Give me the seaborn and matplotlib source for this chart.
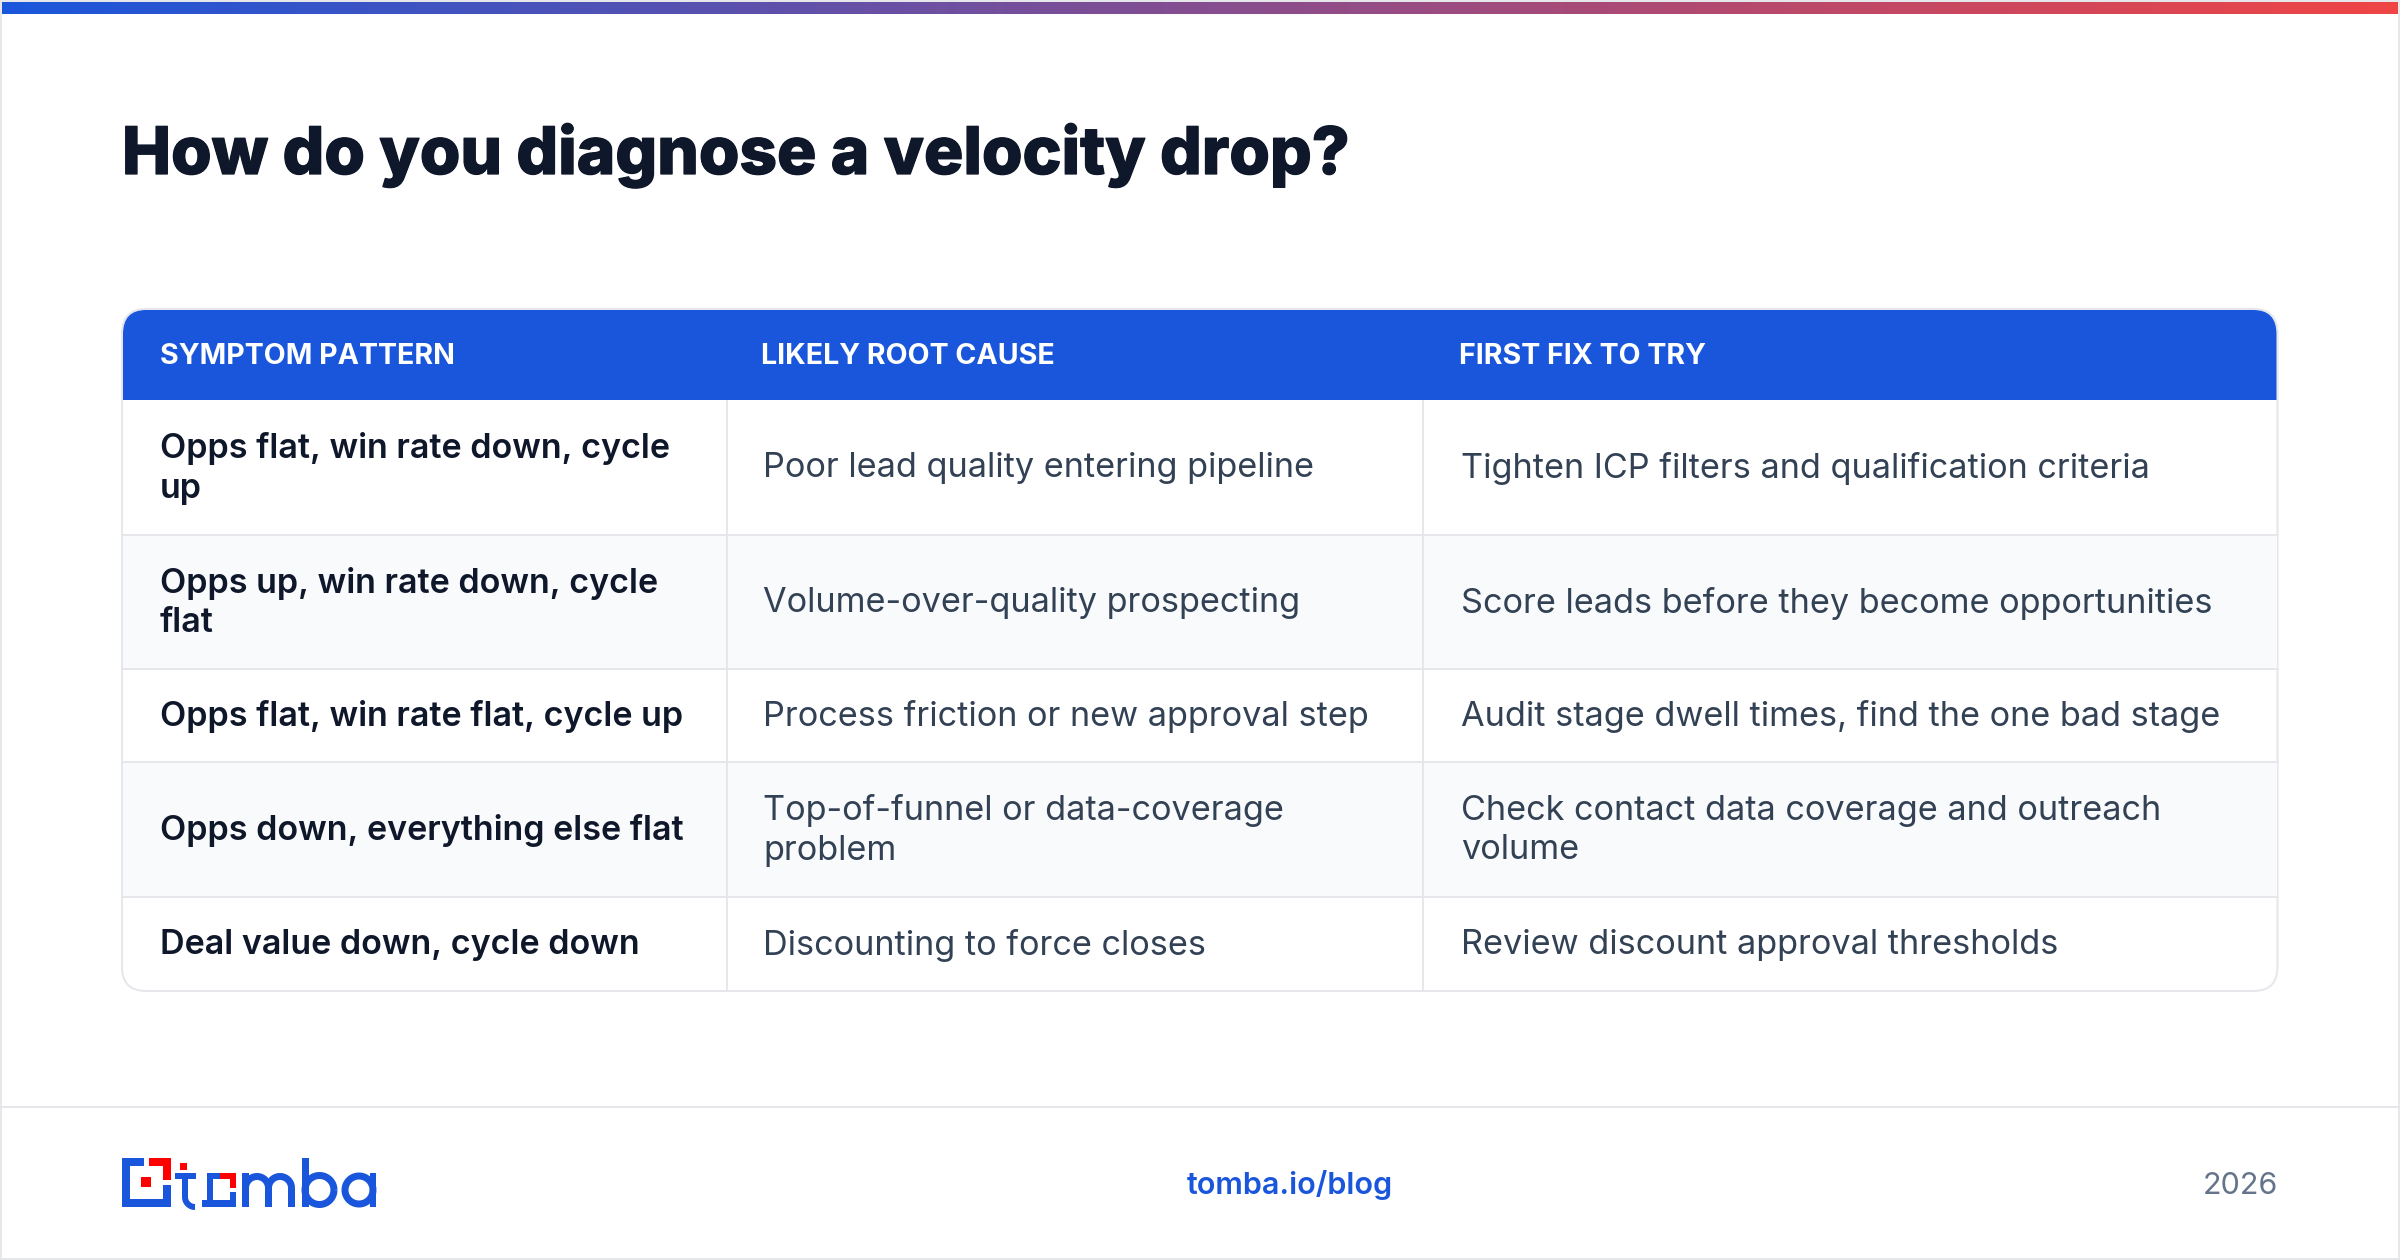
import numpy as np
import matplotlib
matplotlib.use('Agg')
import matplotlib.pyplot as plt
import matplotlib.patheffects as pe
import seaborn as sns
from matplotlib.colors import LinearSegmentedColormap
from matplotlib.patches import Rectangle, FancyBboxPatch, PathPatch
from matplotlib.path import Path

# table content
title = 'How do you diagnose a velocity drop?'
headers = ['SYMPTOM PATTERN', 'LIKELY ROOT CAUSE', 'FIRST FIX TO TRY']
symptoms = ['Opps flat, win rate down, cycle\nup', 'Opps up, win rate down, cycle\nflat',
            'Opps flat, win rate flat, cycle up', 'Opps down, everything else flat',
            'Deal value down, cycle down']
causes = ['Poor lead quality entering pipeline', 'Volume-over-quality prospecting',
          'Process friction or new approval step', 'Top-of-funnel or data-coverage\nproblem',
          'Discounting to force closes']
fixes = ['Tighten ICP filters and qualification criteria', 'Score leads before they become opportunities',
         'Audit stage dwell times, find the one bad stage', 'Check contact data coverage and outreach\nvolume',
         'Review discount approval thresholds']
footer_link = 'tomba.io/blog'
footer_year = '2026'

# layout in pixels
row_edges = [400, 535, 669, 762, 897, 991]
col_edges = [122, 727, 1423, 2277.5]

BLUE = '#1a56db'
RED = '#ff0000'
LINE = '#e5e7eb'
DARK = '#0f172a'
BODY = '#334155'

sns.set_theme(style='white')
plt.rcParams['font.family'] = ['Inter', 'DejaVu Sans']

fig = plt.figure(figsize=(24, 12.6), dpi=100, facecolor='white')
ax = fig.add_axes([0, 0, 1, 1])
ax.set_xlim(0, 2400)
ax.set_ylim(1260, 0)
ax.axis('off')

# page border and footer rule
ax.add_patch(Rectangle((1, 1), 2398, 1258, fc='none', ec=LINE, lw=1.44))
ax.plot([2, 2398], [1107, 1107], color=LINE, lw=1.44)

# gradient strip along the top
bar_ax = fig.add_axes([2 / 2400, 1 - 14 / 1260, 2396 / 2400, 12 / 1260])
cmap = LinearSegmentedColormap.from_list('strip', [BLUE, '#ef4444'])
sns.heatmap(np.linspace(0, 1, 600).reshape(1, -1), cmap=cmap, cbar=False,
            xticklabels=False, yticklabels=False, ax=bar_ax)

# table frame
rad = 24
x0, x1 = col_edges[0], col_edges[-1]
y0, y1 = 309, row_edges[-1]
frame = FancyBboxPatch((x0, y0), x1 - x0, y1 - y0, boxstyle=f'round,pad=0,rounding_size={rad}',
                       fc='white', ec=LINE, lw=1.44, zorder=1)
ax.add_patch(frame)

# alternate row shading
for i in range(5):
    top, bot = row_edges[i], row_edges[i + 1]
    if i % 2 == 1:
        ax.add_patch(Rectangle((x0 + 1, top), x1 - x0 - 2, bot - top, fc='#f8fafc', ec='none', zorder=1.2))
    if i < 4:
        ax.plot([x0, x1], [bot, bot], color=LINE, lw=1.44, zorder=1.5)
for cx in col_edges[1:-1]:
    ax.plot([cx, cx], [row_edges[0], row_edges[-1]], color=LINE, lw=1.44, zorder=1.5)

# header band, rounded on top only
hdr = Path([(x0 + 1, 400), (x0 + 1, 310 + rad), (x0 + 1, 310), (x0 + rad, 310), (x1 - rad, 310), (x1 - 1, 310),
            (x1 - 1, 310 + rad), (x1 - 1, 400), (x0 + 1, 400)],
           [Path.MOVETO, Path.LINETO, Path.CURVE3, Path.CURVE3, Path.LINETO, Path.CURVE3, Path.CURVE3,
            Path.LINETO, Path.CLOSEPOLY])
ax.add_patch(PathPatch(hdr, fc=BLUE, ec='none', zorder=2))

ax.text(122, 156, title, fontsize=47.2, fontweight=800, color=DARK, va='center', ha='left', zorder=3,
        path_effects=[pe.withStroke(linewidth=0.9, foreground=DARK)])

for x, label in zip([160, 761, 1459], headers):
    ax.text(x, 356, label, fontsize=20.6, fontweight='bold', color='white', va='center', ha='left', zorder=3)

for i in range(5):
    mid = (row_edges[i] + row_edges[i + 1]) / 2 + 1
    ax.text(160, mid, symptoms[i], fontsize=24.55, fontweight='semibold', color=DARK, va='center', ha='left',
            linespacing=1.3, zorder=3)
    ax.text(763, mid, causes[i], fontsize=24.65, color=BODY, va='center', ha='left', linespacing=1.3, zorder=3)
    ax.text(1461, mid, fixes[i], fontsize=24.65, color=BODY, va='center', ha='left', linespacing=1.3, zorder=3)

ax.text(1289.5, 1185, footer_link, fontsize=22, fontweight='semibold', color=BLUE, va='center', ha='center')
ax.text(2278.5, 1186, footer_year, fontsize=22, color='#64748b', va='center', ha='right')


# logo, built from blocks and strokes
def block(x_a, x_b, y_a, y_b, color=BLUE):
    ax.add_patch(Rectangle((x_a, y_a), x_b - x_a, y_b - y_a, fc=color, ec='none', zorder=3))


def arc(cx, cy, r, start, end, width=7):
    t = np.radians(np.linspace(start, end, 60))
    ax.plot(cx + r * np.cos(t), cy - r * np.sin(t), color=BLUE, lw=width * 0.72,
            solid_capstyle='butt', zorder=3)


# icon
block(122, 144, 1158, 1166)
block(122, 130, 1158, 1207)
block(122, 171, 1199, 1207)
block(163, 171, 1185, 1207)
block(149, 171, 1158, 1166, RED)
block(163, 171, 1158, 1180, RED)
block(141, 151, 1177, 1187, RED)

# t
block(180, 187, 1163, 1169.5, RED)
block(175, 196, 1172.5, 1178.5)
block(182, 188, 1172.5, 1197)
arc(195, 1197, 10, 180, 270, 6)

# o
block(207, 220, 1173, 1179)
block(207, 212.5, 1173, 1207)
block(202, 236, 1200, 1207)
block(230, 236, 1191.5, 1207)
block(220, 236, 1173, 1179, RED)
block(230, 236, 1173, 1188, RED)

# m
block(242, 249, 1173, 1207)
block(265, 272, 1188, 1207)
block(288, 295, 1188, 1207)
arc(257, 1188, 11.5, 0, 180)
arc(280, 1188, 11.5, 0, 180)

# b
block(302, 308.5, 1158, 1207)
arc(319.5, 1190, 14.5, 0, 360)

# a
arc(359, 1190, 14, 0, 360)
block(369.5, 376, 1173, 1207)

fig.savefig('out.png', dpi=100, facecolor='white')
